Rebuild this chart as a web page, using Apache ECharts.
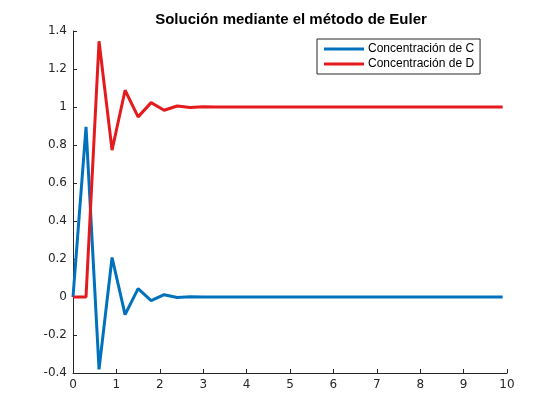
<!DOCTYPE html>
<html><head><meta charset="utf-8">
<script src="https://cdn.jsdelivr.net/npm/echarts@6/dist/echarts.min.js"></script>
<style>html,body{margin:0;padding:0;background:#fff}#c{width:560px;height:420px}</style>
</head><body><div id="c"></div>
<script>
const title = 'Solución mediante el método de Euler';
const seriesNames = ['Concentración de C', 'Concentración de D'];
const t = [0,0.3,0.6,0.9,1.2,1.5,1.8,2.1,2.4,2.7,3.0,3.3,3.6,3.9,4.2,4.5,4.8,5.1,5.4,5.7,6.0,6.3,6.6,6.9,7.2,7.5,7.8,8.1,8.4,8.7,9.0,9.3,9.6,9.9];
const concC = [0,0.895,-0.381,0.208,-0.093,0.044,-0.019,0.012,-0.003,0.001,0,0,0,0,0,0,0,0,0,0,0,0,0,0,0,0,0,0,0,0,0,0,0,0];
const concD = [0,0,1.346,0.773,1.088,0.948,1.023,0.983,1.005,0.997,1.001,1,1,1,1,1,1,1,1,1,1,1,1,1,1,1,1,1,1,1,1,1,1,1];
const xTicks = [0,1,2,3,4,5,6,7,8,9,10];
const yTicks = [-0.4,-0.2,0,0.2,0.4,0.6,0.8,1,1.2,1.4];

const chart = echarts.init(document.getElementById('c'));
const axisCol = '#262626';
const font = 'Liberation Sans, Arial, sans-serif';
const tickFont = '"DejaVu Sans", sans-serif';
chart.setOption({
  animation: false,
  backgroundColor: '#ffffff',
  title: {text: title, left: 286, top: 7, textAlign: 'center',
    textStyle: {fontFamily: font, fontSize: 15, fontWeight: 'bold', color: '#000'}},
  grid: {left: 73, right: 53, top: 31, bottom: 47, containLabel: false},
  legend: {
    data: seriesNames, orient: 'vertical', left: 317, top: 39,
    itemWidth: 40, itemHeight: 3, itemGap: 3,
    icon: 'rect',
    borderColor: '#262626', borderWidth: 1, padding: [4, 6, 4, 7],
    textStyle: {fontFamily: font, fontSize: 12, color: '#000', padding: [0,0,0,-1]},
    backgroundColor: '#fff'
  },
  xAxis: {
    type: 'value', min: 0, max: 10, interval: 1,
    axisLine: {show: true, onZero: false, lineStyle: {color: axisCol, width: 1}},
    axisTick: {show: true, inside: true, length: 4, lineStyle: {color: axisCol}},
    axisLabel: {fontFamily: tickFont, fontSize: 12, color: axisCol, margin: 6, formatter: v => String(v)},
    splitLine: {show: false}
  },
  yAxis: {
    type: 'value', min: -0.4, max: 1.4, interval: 0.2,
    axisLine: {show: true, onZero: false, lineStyle: {color: axisCol, width: 1}},
    axisTick: {show: true, inside: true, length: 4, lineStyle: {color: axisCol}},
    axisLabel: {fontFamily: tickFont, fontSize: 12, color: axisCol, margin: 6,
      formatter: v => { const r = Math.round(v*10)/10; return String(r); }},
    splitLine: {show: false}
  },
  series: [
    {name: seriesNames[0], type: 'line', data: t.map((x,i)=>[x, concC[i]]),
      showSymbol: false, symbol: 'none', color: '#0072BD', lineStyle: {width: 3, color: '#0072BD'}, z: 2},
    {name: seriesNames[1], type: 'line', data: t.map((x,i)=>[x, concD[i]]),
      showSymbol: false, symbol: 'none', color: '#E41A1C', lineStyle: {width: 3, color: '#E41A1C'}, z: 3}
  ]
});
</script></body></html>
